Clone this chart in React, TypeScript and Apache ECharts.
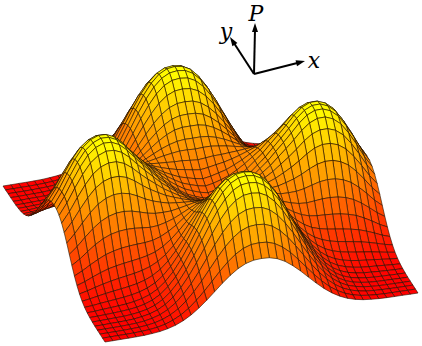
import React, { useEffect, useRef } from "react";
import * as echarts from "echarts";

const AXIS_LABELS = ["P", "y", "x"];
// Surface height P per mille of the maximum: rows run along y, columns along x.
const P_GRID = [
[0,0,1,1,2,4,9,16,29,48,77,115,163,219,280,342,398,445,478,496,500,496,478,445,398,342,280,219,163,115,77,48,29,16,9,4,2,1,1,0,0],
[0,0,1,1,2,5,10,19,34,58,92,137,195,262,335,410,478,533,573,595,600,595,573,533,478,410,335,262,195,137,92,58,34,19,10,5,2,1,1,0,0],
[1,1,1,2,4,7,13,24,42,70,111,166,235,315,403,492,573,640,688,714,720,714,688,640,573,492,403,315,235,166,111,70,42,24,13,7,4,2,1,1,1],
[1,1,2,3,5,9,16,29,49,82,129,192,271,364,465,568,661,738,793,823,830,823,793,738,661,568,465,364,271,192,129,82,49,29,16,9,5,3,2,1,1],
[2,2,4,5,7,11,20,33,56,92,144,214,302,404,516,630,734,819,880,913,921,913,880,819,734,630,516,404,302,214,144,92,56,33,20,11,7,5,4,2,2],
[4,5,7,9,11,16,25,39,63,101,156,229,322,431,549,669,779,869,933,968,976,968,933,869,779,669,549,431,322,229,156,101,63,39,25,16,11,9,7,5,4],
[9,10,13,16,20,25,34,49,73,111,167,241,336,446,567,690,801,893,959,994,1003,994,959,893,801,690,567,446,336,241,167,111,73,49,34,25,20,16,13,10,9],
[16,19,24,29,33,39,49,64,87,124,178,251,344,452,571,692,802,893,957,992,1001,992,957,893,802,692,571,452,344,251,178,124,87,64,49,39,33,29,24,19,16],
[29,34,42,49,56,63,73,87,109,143,193,261,349,451,563,678,782,868,929,962,970,962,929,868,782,678,563,451,349,261,193,143,109,87,73,63,56,49,42,34,29],
[48,58,70,82,92,101,111,124,143,172,215,275,352,444,545,649,743,821,876,905,912,905,876,821,743,649,545,444,352,275,215,172,143,124,111,101,92,82,70,58,48],
[77,92,111,129,144,156,167,178,193,215,248,296,361,438,525,613,694,760,807,832,837,832,807,760,694,613,525,438,361,296,248,215,193,178,167,156,144,129,111,92,77],
[115,137,166,192,214,229,241,251,261,275,296,332,382,443,513,585,650,704,743,762,765,762,743,704,650,585,513,443,382,332,296,275,261,251,241,229,214,192,166,137,115],
[163,195,235,271,302,322,336,344,349,352,361,382,416,459,511,564,613,654,683,696,697,696,683,654,613,564,511,459,416,382,361,352,349,344,336,322,302,271,235,195,163],
[219,262,315,364,404,431,446,452,451,444,438,443,459,481,513,546,578,603,621,628,627,628,621,603,578,546,513,481,459,443,438,444,451,452,446,431,404,364,315,262,219],
[280,335,403,465,516,549,567,571,563,545,525,513,511,513,525,539,553,563,572,572,568,572,572,563,553,539,525,513,511,513,525,545,563,571,567,549,516,465,403,335,280],
[342,410,492,568,630,669,690,692,678,649,613,585,564,546,539,533,529,524,523,516,510,516,523,524,529,533,539,546,564,585,613,649,678,692,690,669,630,568,492,410,342],
[398,478,573,661,734,779,801,802,782,743,694,650,613,578,553,529,509,492,481,468,459,468,481,492,509,529,553,578,613,650,694,743,782,802,801,779,734,661,573,478,398],
[445,533,640,738,819,869,893,893,868,821,760,704,654,603,563,524,492,462,444,427,416,427,444,462,492,524,563,603,654,704,760,821,868,893,893,869,819,738,640,533,445],
[478,573,688,793,880,933,959,957,929,876,807,743,683,621,572,523,481,444,420,400,387,400,420,444,481,523,572,621,683,743,807,876,929,957,959,933,880,793,688,573,478],
[496,595,714,823,913,968,994,992,962,905,832,762,696,628,572,516,468,427,400,377,363,377,400,427,468,516,572,628,696,762,832,905,962,992,994,968,913,823,714,595,496],
[500,600,720,830,921,976,1003,1001,970,912,837,765,697,627,568,510,459,416,387,363,350,363,387,416,459,510,568,627,697,765,837,912,970,1001,1003,976,921,830,720,600,500],
[496,595,714,823,913,968,994,992,962,905,832,762,696,628,572,516,468,427,400,377,363,377,400,427,468,516,572,628,696,762,832,905,962,992,994,968,913,823,714,595,496],
[478,573,688,793,880,933,959,957,929,876,807,743,683,621,572,523,481,444,420,400,387,400,420,444,481,523,572,621,683,743,807,876,929,957,959,933,880,793,688,573,478],
[445,533,640,738,819,869,893,893,868,821,760,704,654,603,563,524,492,462,444,427,416,427,444,462,492,524,563,603,654,704,760,821,868,893,893,869,819,738,640,533,445],
[398,478,573,661,734,779,801,802,782,743,694,650,613,578,553,529,509,492,481,468,459,468,481,492,509,529,553,578,613,650,694,743,782,802,801,779,734,661,573,478,398],
[342,410,492,568,630,669,690,692,678,649,613,585,564,546,539,533,529,524,523,516,510,516,523,524,529,533,539,546,564,585,613,649,678,692,690,669,630,568,492,410,342],
[280,335,403,465,516,549,567,571,563,545,525,513,511,513,525,539,553,563,572,572,568,572,572,563,553,539,525,513,511,513,525,545,563,571,567,549,516,465,403,335,280],
[219,262,315,364,404,431,446,452,451,444,438,443,459,481,513,546,578,603,621,628,627,628,621,603,578,546,513,481,459,443,438,444,451,452,446,431,404,364,315,262,219],
[163,195,235,271,302,322,336,344,349,352,361,382,416,459,511,564,613,654,683,696,697,696,683,654,613,564,511,459,416,382,361,352,349,344,336,322,302,271,235,195,163],
[115,137,166,192,214,229,241,251,261,275,296,332,382,443,513,585,650,704,743,762,765,762,743,704,650,585,513,443,382,332,296,275,261,251,241,229,214,192,166,137,115],
[77,92,111,129,144,156,167,178,193,215,248,296,361,438,525,613,694,760,807,832,837,832,807,760,694,613,525,438,361,296,248,215,193,178,167,156,144,129,111,92,77],
[48,58,70,82,92,101,111,124,143,172,215,275,352,444,545,649,743,821,876,905,912,905,876,821,743,649,545,444,352,275,215,172,143,124,111,101,92,82,70,58,48],
[29,34,42,49,56,63,73,87,109,143,193,261,349,451,563,678,782,868,929,962,970,962,929,868,782,678,563,451,349,261,193,143,109,87,73,63,56,49,42,34,29],
[16,19,24,29,33,39,49,64,87,124,178,251,344,452,571,692,802,893,957,992,1001,992,957,893,802,692,571,452,344,251,178,124,87,64,49,39,33,29,24,19,16],
[9,10,13,16,20,25,34,49,73,111,167,241,336,446,567,690,801,893,959,994,1003,994,959,893,801,690,567,446,336,241,167,111,73,49,34,25,20,16,13,10,9],
[4,5,7,9,11,16,25,39,63,101,156,229,322,431,549,669,779,869,933,968,976,968,933,869,779,669,549,431,322,229,156,101,63,39,25,16,11,9,7,5,4],
[2,2,4,5,7,11,20,33,56,92,144,214,302,404,516,630,734,819,880,913,921,913,880,819,734,630,516,404,302,214,144,92,56,33,20,11,7,5,4,2,2],
[1,1,2,3,5,9,16,29,49,82,129,192,271,364,465,568,661,738,793,823,830,823,793,738,661,568,465,364,271,192,129,82,49,29,16,9,5,3,2,1,1],
[1,1,1,2,4,7,13,24,42,70,111,166,235,315,403,492,573,640,688,714,720,714,688,640,573,492,403,315,235,166,111,70,42,24,13,7,4,2,1,1,1],
[0,0,1,1,2,5,10,19,34,58,92,137,195,262,335,410,478,533,573,595,600,595,573,533,478,410,335,262,195,137,92,58,34,19,10,5,2,1,1,0,0],
[0,0,1,1,2,4,9,16,29,48,77,115,163,219,280,342,398,445,478,496,500,496,478,445,398,342,280,219,163,115,77,48,29,16,9,4,2,1,1,0,0],
];

const N = P_GRID.length - 1;
const FRONT = [105, 342], RIGHT = [418, 293], LEFT = [3, 186], BACK = [316, 137];
const HEIGHT_PX = 118;

function project(i: number, j: number) {
  const u = i / N, v = j / N;
  const x = (1 - u) * (1 - v) * FRONT[0] + u * (1 - v) * RIGHT[0] + (1 - u) * v * LEFT[0] + u * v * BACK[0];
  const y = (1 - u) * (1 - v) * FRONT[1] + u * (1 - v) * RIGHT[1] + (1 - u) * v * LEFT[1] + u * v * BACK[1];
  return [x, y - (P_GRID[j][i] / 1000) * HEIGHT_PX];
}

const cells: number[][] = [];
for (let j = N - 1; j >= 0; j--) for (let i = N - 1; i >= 0; i--) cells.push([i, j]);

export default function App() {
  const ref = useRef<HTMLDivElement>(null);
  useEffect(() => {
    const chart = echarts.init(ref.current!, null, { renderer: "svg" });
    const arrow = (x2: number, y2: number, dx: number, dy: number) => {
      const l = Math.hypot(dx, dy), ux = dx / l, uy = dy / l;
      return [
        { type: "line", shape: { x1: 254, y1: 74, x2: x2 - ux * 6, y2: y2 - uy * 6 }, style: { stroke: "#000", lineWidth: 2 } },
        { type: "polygon", shape: { points: [[x2, y2], [x2 - ux * 9 - uy * 3, y2 - uy * 9 + ux * 3], [x2 - ux * 9 + uy * 3, y2 - uy * 9 - ux * 3]] }, style: { fill: "#000" } },
      ];
    };
    const label = (t: string, x: number, y: number) => ({
      type: "text", x, y,
      style: { text: t, font: "italic 22px 'DejaVu Serif'", fill: "#000", textAlign: "center", textVerticalAlign: "middle" },
    });
    chart.setOption({
      animation: false,
      grid: { left: 0, right: 0, top: 0, bottom: 0 },
      xAxis: { type: "value", min: 0, max: 422, show: false },
      yAxis: { type: "value", min: 0, max: 346, inverse: true, show: false },
      series: [{
        type: "custom",
        clip: false,
        silent: true,
        data: cells,
        encode: { x: 0, y: 1 },
        renderItem: (params: any, api: any) => {
          const i = api.value(0), j = api.value(1);
          const corners = [[i, j], [i + 1, j], [i + 1, j + 1], [i, j + 1]];
          const pts = corners.map(([a, b]) => api.coord(project(a, b)));
          const t = corners.reduce((s, [a, b]) => s + P_GRID[b][a], 0) / 4 / 1000;
          const g = Math.min(255, Math.round(255 * t));
          return { type: "polygon", shape: { points: pts }, style: { fill: `rgb(255,${g},0)`, stroke: "rgba(30,15,0,0.85)", lineWidth: 0.7 } };
        },
      }],
      graphic: [
        ...arrow(255, 23, 0, -1),
        ...arrow(230, 37, -24, -37),
        ...arrow(305, 61, 51, -13),
        label(AXIS_LABELS[0], 256, 13),
        label(AXIS_LABELS[1], 226, 31),
        label(AXIS_LABELS[2], 314, 60),
      ],
    });
    return () => chart.dispose();
  }, []);
  return <div ref={ref} style={{ position: "absolute", left: 0, top: 0, width: 422, height: 346 }} />;
}
